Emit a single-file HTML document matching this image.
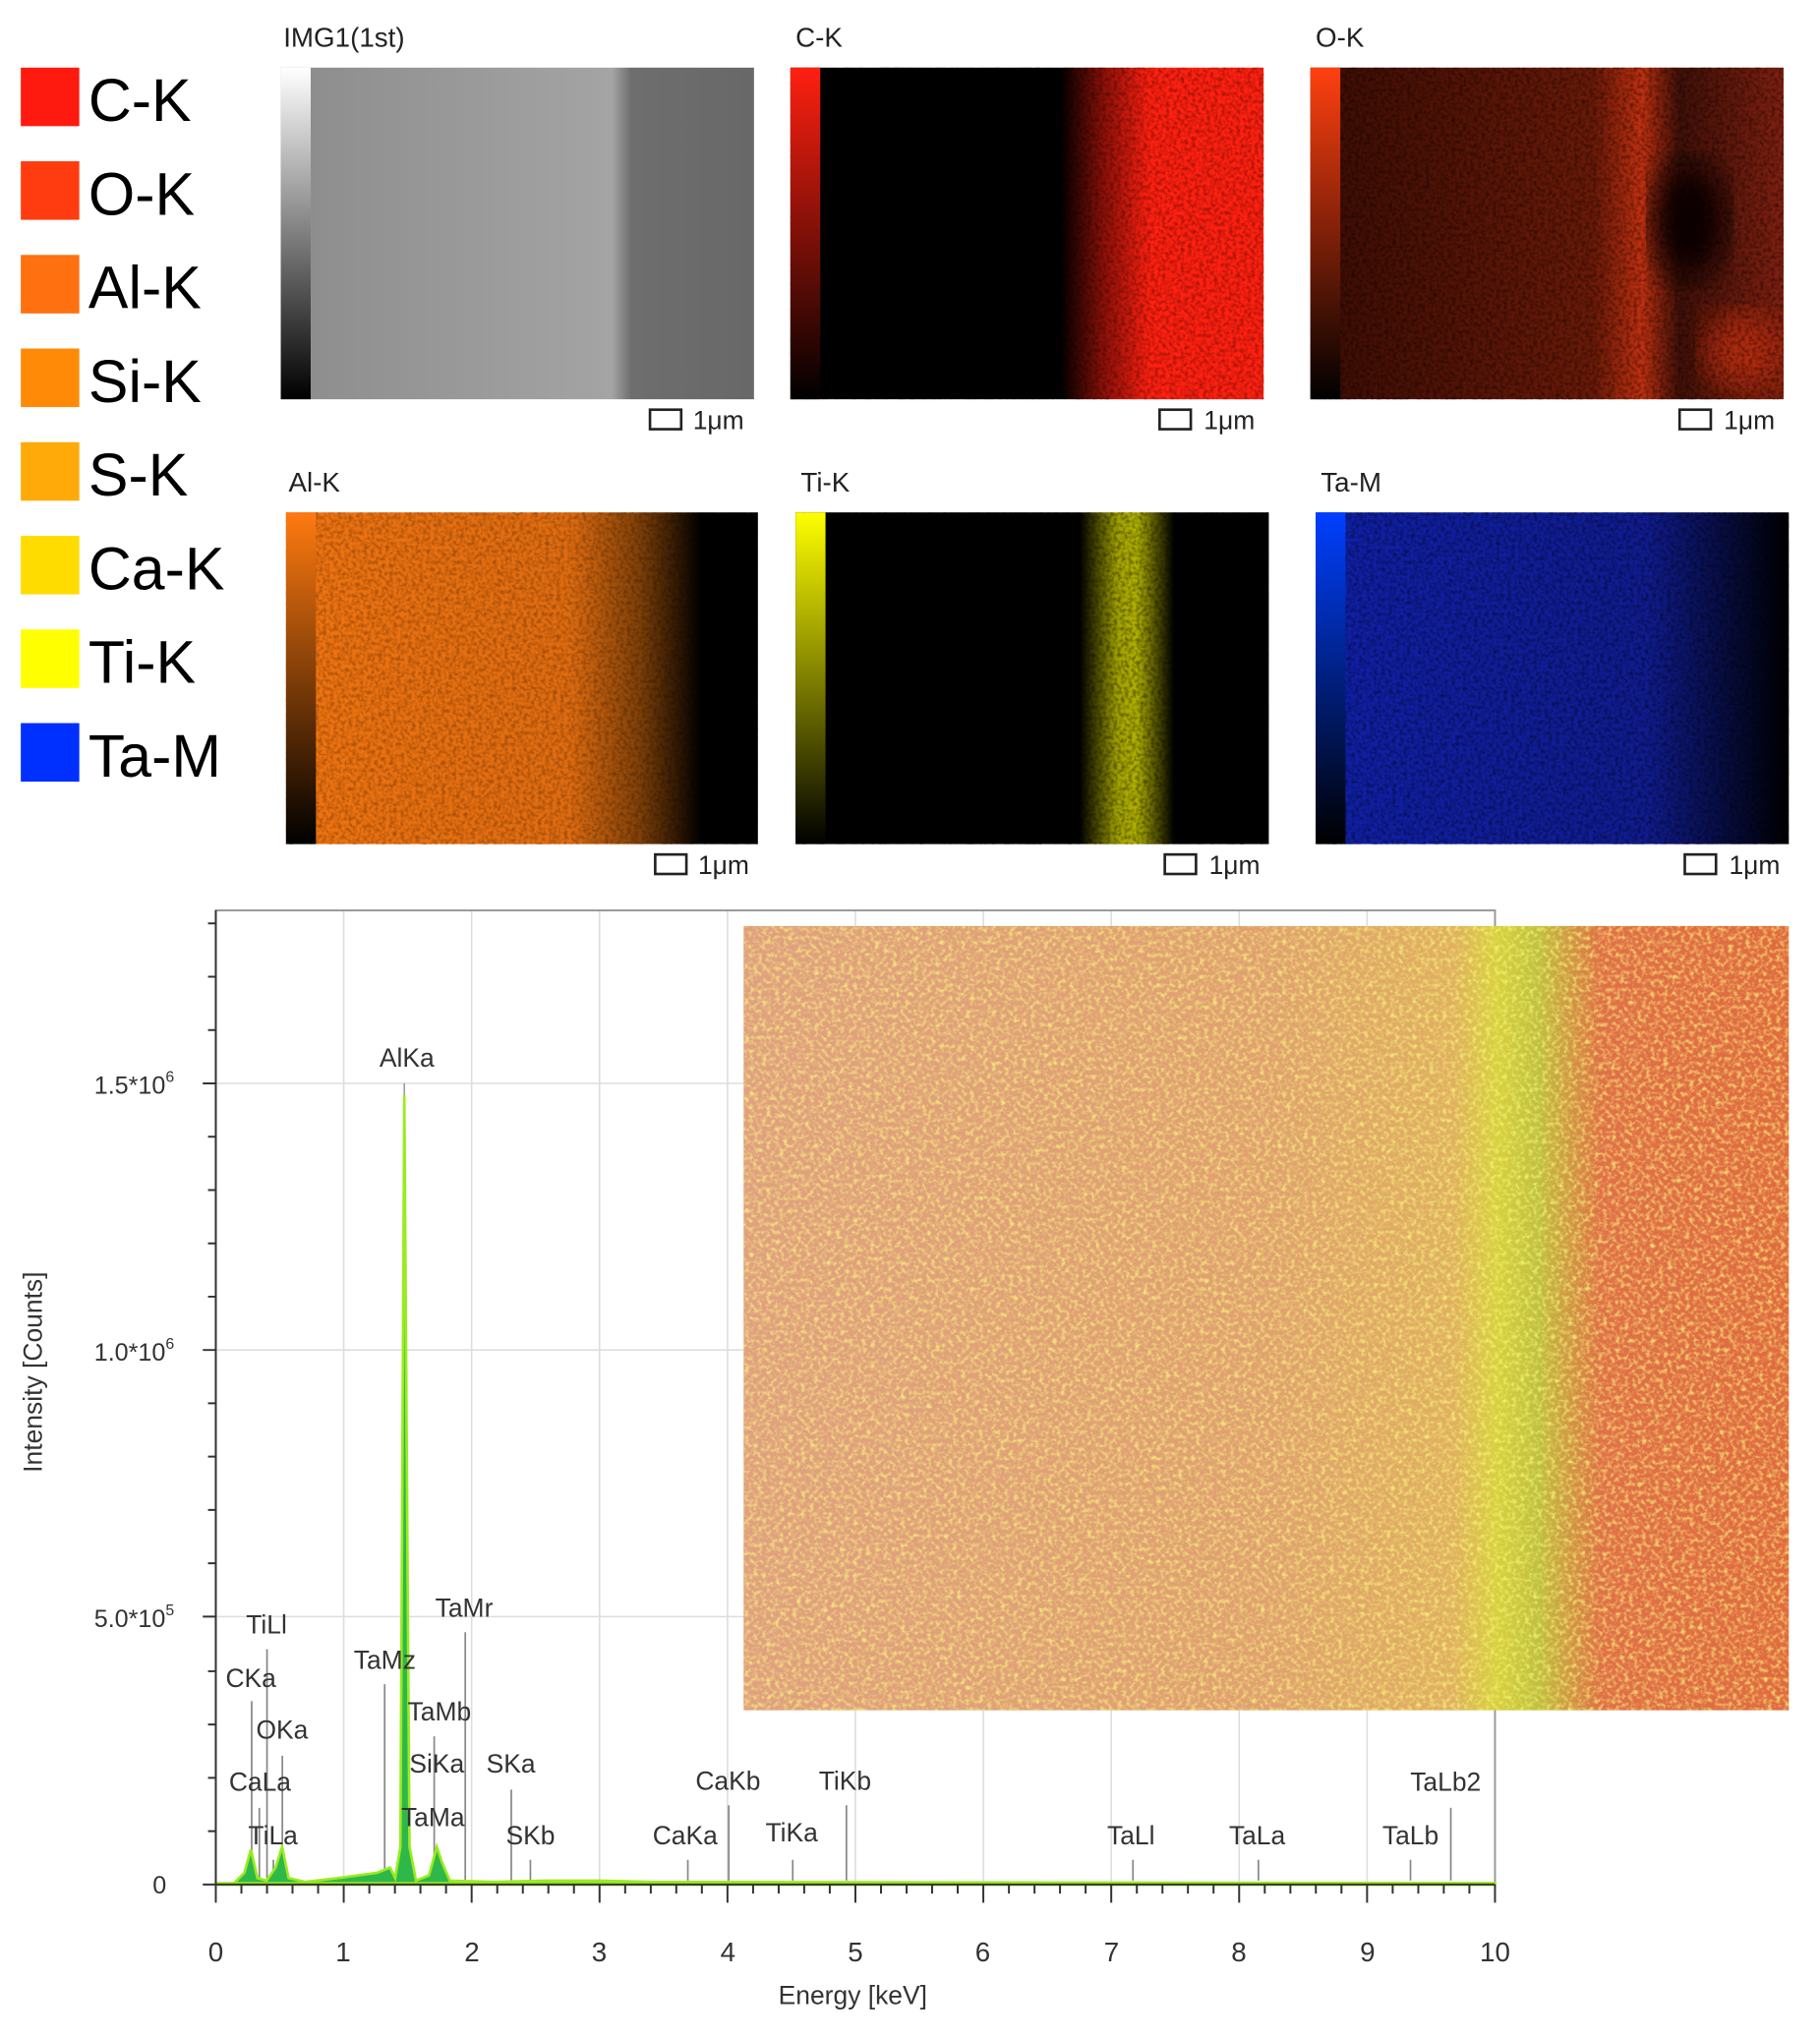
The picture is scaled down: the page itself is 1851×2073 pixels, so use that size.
<!DOCTYPE html>
<html><head><meta charset="utf-8"><style>
html,body{margin:0;padding:0;background:#fff}
svg{display:block}
text{font-family:"Liberation Sans",sans-serif}
</style></head><body>
<svg width="1851" height="2073" viewBox="0 0 1400 1567" preserveAspectRatio="none" xmlns="http://www.w3.org/2000/svg">
<defs>
<filter id="nz" x="0" y="0" width="100%" height="100%">
<feTurbulence type="fractalNoise" baseFrequency="0.35" numOctaves="2" seed="3"/>
<feColorMatrix values="0 0 0 0 0  0 0 0 0 0  0 0 0 0 0  1.6 0 0 0 -0.6"/>
</filter>
<filter id="ny" x="0" y="0" width="100%" height="100%">
<feTurbulence type="fractalNoise" baseFrequency="0.3" numOctaves="2" seed="7"/>
<feColorMatrix values="0 0 0 0 0.95  0 0 0 0 0.95  0 0 0 0 0.2  2.5 0 0 0 -1.1"/>
</filter>
<filter id="bl"><feGaussianBlur stdDeviation="12"/></filter>
<linearGradient id="cbw" x1="0" y1="0" x2="0" y2="1"><stop offset="0" stop-color="#fff"/><stop offset="1" stop-color="#000"/></linearGradient>
<linearGradient id="cbr" x1="0" y1="0" x2="0" y2="1"><stop offset="0" stop-color="#ff2010"/><stop offset="1" stop-color="#000"/></linearGradient>
<linearGradient id="cbo" x1="0" y1="0" x2="0" y2="1"><stop offset="0" stop-color="#ff4010"/><stop offset="1" stop-color="#000"/></linearGradient>
<linearGradient id="cba" x1="0" y1="0" x2="0" y2="1"><stop offset="0" stop-color="#ff7a10"/><stop offset="1" stop-color="#000"/></linearGradient>
<linearGradient id="cby" x1="0" y1="0" x2="0" y2="1"><stop offset="0" stop-color="#ffff00"/><stop offset="1" stop-color="#000"/></linearGradient>
<linearGradient id="cbb" x1="0" y1="0" x2="0" y2="1"><stop offset="0" stop-color="#0040ff"/><stop offset="1" stop-color="#000"/></linearGradient>
<linearGradient id="gimg" x1="0" y1="0" x2="1" y2="0"><stop offset="0" stop-color="#8c8c8c"/><stop offset="0.7" stop-color="#a4a4a4"/><stop offset="0.74" stop-color="#6e6e6e"/><stop offset="1" stop-color="#686868"/></linearGradient>
<linearGradient id="gck" x1="0" y1="0" x2="1" y2="0"><stop offset="0" stop-color="#000"/><stop offset="0.57" stop-color="#000"/><stop offset="0.66" stop-color="#8a1008"/><stop offset="0.76" stop-color="#ff2010"/><stop offset="1" stop-color="#ff2010"/></linearGradient>
<linearGradient id="gok" x1="0" y1="0" x2="1" y2="0"><stop offset="0" stop-color="#3a0c04"/><stop offset="0.6" stop-color="#6a1a08"/><stop offset="0.7" stop-color="#c03010"/><stop offset="0.78" stop-color="#401008"/><stop offset="1" stop-color="#802010"/></linearGradient>
<linearGradient id="gal" x1="0" y1="0" x2="1" y2="0"><stop offset="0" stop-color="#f07410"/><stop offset="0.6" stop-color="#e06c10"/><stop offset="0.75" stop-color="#804008"/><stop offset="0.88" stop-color="#000"/><stop offset="1" stop-color="#000"/></linearGradient>
<linearGradient id="gti" x1="0" y1="0" x2="1" y2="0"><stop offset="0" stop-color="#000"/><stop offset="0.6" stop-color="#000"/><stop offset="0.68" stop-color="#a0a000"/><stop offset="0.72" stop-color="#b0b000"/><stop offset="0.8" stop-color="#000"/><stop offset="1" stop-color="#000"/></linearGradient>
<linearGradient id="gta" x1="0" y1="0" x2="1" y2="0"><stop offset="0" stop-color="#1020a8"/><stop offset="0.7" stop-color="#101c90"/><stop offset="1" stop-color="#000"/></linearGradient>
<linearGradient id="gov" x1="0" y1="0" x2="1" y2="0"><stop offset="0" stop-color="#e0a080"/><stop offset="0.5" stop-color="#e0a070"/><stop offset="0.68" stop-color="#e0b060"/><stop offset="0.72" stop-color="#d8d040"/><stop offset="0.76" stop-color="#c0c040"/><stop offset="0.82" stop-color="#e07048"/><stop offset="1" stop-color="#e06a40"/></linearGradient>
<clipPath id="okc"><rect x="1008" y="52" width="364" height="255"/></clipPath>
</defs>
<g font-size="46">
<rect x="16" y="52" width="45" height="45" fill="#ff1a10"/><text x="68" y="93">C-K</text>
<rect x="16" y="124" width="45" height="45" fill="#ff3c10"/><text x="68" y="165">O-K</text>
<rect x="16" y="196" width="45" height="45" fill="#ff7010"/><text x="68" y="237">Al-K</text>
<rect x="16" y="268" width="45" height="45" fill="#ff8a08"/><text x="68" y="309">Si-K</text>
<rect x="16" y="340" width="45" height="45" fill="#ffaa08"/><text x="68" y="381">S-K</text>
<rect x="16" y="412" width="45" height="45" fill="#ffdc00"/><text x="68" y="453">Ca-K</text>
<rect x="16" y="484" width="45" height="45" fill="#ffff00"/><text x="68" y="525">Ti-K</text>
<rect x="16" y="556" width="45" height="45" fill="#0030ff"/><text x="68" y="597">Ta-M</text>
</g>
<g font-size="21" fill="#222">
<text x="218" y="36">IMG1(1st)</text><text x="612" y="36">C-K</text><text x="1012" y="36">O-K</text>
<text x="222" y="378">Al-K</text><text x="616" y="378">Ti-K</text><text x="1016" y="378">Ta-M</text>
</g>
<rect x="216" y="52" width="364" height="255" fill="url(#gimg)"/><rect x="216" y="52" width="23" height="255" fill="url(#cbw)"/>
<rect x="608" y="52" width="364" height="255" fill="url(#gck)"/><rect x="608" y="52" width="364" height="255" filter="url(#nz)" opacity="0.5"/><rect x="608" y="52" width="23" height="255" fill="url(#cbr)"/>
<rect x="1008" y="52" width="364" height="255" fill="url(#gok)"/>
<g clip-path="url(#okc)"><ellipse cx="1300" cy="170" rx="28" ry="45" fill="#100402" filter="url(#bl)"/><ellipse cx="1340" cy="270" rx="30" ry="30" fill="#d03010" opacity="0.7" filter="url(#bl)"/></g>
<rect x="1008" y="52" width="364" height="255" filter="url(#nz)" opacity="0.6"/><rect x="1008" y="52" width="23" height="255" fill="url(#cbo)"/>
<rect x="220" y="394" width="363" height="255" fill="url(#gal)"/><rect x="220" y="394" width="363" height="255" filter="url(#nz)" opacity="0.4"/><rect x="220" y="394" width="23" height="255" fill="url(#cba)"/>
<rect x="612" y="394" width="364" height="255" fill="url(#gti)"/><rect x="612" y="394" width="364" height="255" filter="url(#nz)" opacity="0.6"/><rect x="612" y="394" width="23" height="255" fill="url(#cby)"/>
<rect x="1012" y="394" width="364" height="255" fill="url(#gta)"/><rect x="1012" y="394" width="364" height="255" filter="url(#nz)" opacity="0.6"/><rect x="1012" y="394" width="23" height="255" fill="url(#cbb)"/>
<g font-size="20" fill="#222" stroke="none">
<rect x="500" y="315" width="24" height="15" fill="none" stroke="#222" stroke-width="2"/><text x="533" y="330">1μm</text>
<rect x="892" y="315" width="24" height="15" fill="none" stroke="#222" stroke-width="2"/><text x="926" y="330">1μm</text>
<rect x="1292" y="315" width="24" height="15" fill="none" stroke="#222" stroke-width="2"/><text x="1326" y="330">1μm</text>
<rect x="504" y="657" width="24" height="15" fill="none" stroke="#222" stroke-width="2"/><text x="537" y="672">1μm</text>
<rect x="896" y="657" width="24" height="15" fill="none" stroke="#222" stroke-width="2"/><text x="930" y="672">1μm</text>
<rect x="1296" y="657" width="24" height="15" fill="none" stroke="#222" stroke-width="2"/><text x="1330" y="672">1μm</text>
</g>
<g stroke="#ddd" stroke-width="1.2">
<line x1="264.4" y1="700" x2="264.4" y2="1449"/><line x1="362.8" y1="700" x2="362.8" y2="1449"/><line x1="461.2" y1="700" x2="461.2" y2="1449"/><line x1="559.6" y1="700" x2="559.6" y2="1449"/><line x1="658" y1="700" x2="658" y2="1449"/><line x1="756.4" y1="700" x2="756.4" y2="1449"/><line x1="854.8" y1="700" x2="854.8" y2="1449"/><line x1="953.2" y1="700" x2="953.2" y2="1449"/><line x1="1051.6" y1="700" x2="1051.6" y2="1449"/>
<line x1="166" y1="833" x2="1150" y2="833"/><line x1="166" y1="1038" x2="1150" y2="1038"/><line x1="166" y1="1243" x2="1150" y2="1243"/>
</g>
<rect x="166" y="700" width="984" height="749" fill="none" stroke="#999" stroke-width="1.5"/>
<g stroke="#888" stroke-width="1.3">
<line x1="205.4" y1="1268" x2="205.4" y2="1446"/><line x1="193.6" y1="1308" x2="193.6" y2="1446"/><line x1="217.2" y1="1350" x2="217.2" y2="1446"/><line x1="199.5" y1="1390" x2="199.5" y2="1446"/><line x1="210.3" y1="1430" x2="210.3" y2="1446"/>
<line x1="295.9" y1="1295" x2="295.9" y2="1446"/><line x1="357.9" y1="1255" x2="357.9" y2="1446"/><line x1="334" y1="1335" x2="334" y2="1446"/>
<line x1="393.3" y1="1376" x2="393.3" y2="1446"/><line x1="408" y1="1430" x2="408" y2="1446"/>
<line x1="529.1" y1="1430" x2="529.1" y2="1446"/><line x1="560.6" y1="1388" x2="560.6" y2="1446"/><line x1="609.8" y1="1430" x2="609.8" y2="1446"/><line x1="651.1" y1="1388" x2="651.1" y2="1446"/>
<line x1="871.5" y1="1430" x2="871.5" y2="1446"/><line x1="968" y1="1430" x2="968" y2="1446"/><line x1="1085" y1="1430" x2="1085" y2="1446"/><line x1="1116" y1="1390" x2="1116" y2="1446"/>
</g>
<path d="M166,1449 L180,1448 L188,1440 L193,1422 L198,1444 L205,1446 L212,1436 L217,1420 L222,1444 L235,1447 L260,1444 L290,1440 L300,1436 L304,1444 L308,1420 L311,842 L315,1420 L320,1446 L330,1442 L336,1420 L340,1432 L346,1446 L380,1447 L420,1446 L460,1446 L500,1447 L1150,1448 L1150,1449 Z" fill="#2eb84a" stroke="#9aeb20" stroke-width="2"/>
<line x1="166" y1="1448.5" x2="1150" y2="1448.5" stroke="#9aeb20" stroke-width="3"/>
<line x1="311" y1="833" x2="311" y2="842" stroke="#888"/>
<g font-size="20" fill="#333" text-anchor="middle">
<text x="313" y="820">AlKa</text>
<text x="205" y="1256">TiLl</text><text x="193" y="1297">CKa</text><text x="217" y="1337">OKa</text><text x="200" y="1377">CaLa</text><text x="210" y="1418">TiLa</text>
<text x="296" y="1283">TaMz</text><text x="357" y="1243">TaMr</text><text x="338" y="1323">TaMb</text><text x="336" y="1363">SiKa</text><text x="333" y="1404">TaMa</text>
<text x="393" y="1363">SKa</text><text x="408" y="1418">SKb</text><text x="527" y="1418">CaKa</text><text x="560" y="1376">CaKb</text><text x="609" y="1416">TiKa</text><text x="650" y="1376">TiKb</text>
<text x="870" y="1418">TaLl</text><text x="967" y="1418">TaLa</text><text x="1085" y="1418">TaLb</text><text x="1112" y="1377">TaLb2</text>
</g>
<rect x="572" y="712" width="804" height="603" fill="url(#gov)"/>
<rect x="572" y="712" width="804" height="603" filter="url(#ny)" opacity="0.8"/>
<g stroke="#333" stroke-width="1.5">
<line x1="166" y1="700" x2="166" y2="1449"/><line x1="166" y1="1449" x2="1150" y2="1449"/>
<path d="M156,1449h10M156,1243h10M156,1038h10M156,833h10M160,1408h6M160,1367h6M160,1326h6M160,1285h6M160,1202h6M160,1161h6M160,1120h6M160,1079h6M160,997h6M160,956h6M160,915h6M160,874h6M160,792h6M160,751h6M160,710h6"/>
<path d="M166,1449v14M264.4,1449v14M362.8,1449v14M461.2,1449v14M559.6,1449v14M658,1449v14M756.4,1449v14M854.8,1449v14M953.2,1449v14M1051.6,1449v14M1150,1449v14"/>
<path d="M185.7,1449v7M205.4,1449v7M225,1449v7M244.7,1449v7M284.1,1449v7M303.8,1449v7M323.4,1449v7M343.1,1449v7M382.5,1449v7M402.2,1449v7M421.8,1449v7M441.5,1449v7M480.9,1449v7M500.6,1449v7M520.2,1449v7M539.9,1449v7M579.3,1449v7M599,1449v7M618.6,1449v7M638.3,1449v7M677.7,1449v7M697.4,1449v7M717,1449v7M736.7,1449v7M776.1,1449v7M795.8,1449v7M815.4,1449v7M835.1,1449v7M874.5,1449v7M894.2,1449v7M913.8,1449v7M933.5,1449v7M972.9,1449v7M992.6,1449v7M1012.2,1449v7M1031.9,1449v7M1071.3,1449v7M1091,1449v7M1110.6,1449v7M1130.3,1449v7"/>
</g>
<g font-size="21" fill="#333" text-anchor="middle">
<text x="166" y="1508">0</text><text x="264" y="1508">1</text><text x="363" y="1508">2</text><text x="461" y="1508">3</text><text x="560" y="1508">4</text><text x="658" y="1508">5</text><text x="756" y="1508">6</text><text x="855" y="1508">7</text><text x="953" y="1508">8</text><text x="1052" y="1508">9</text><text x="1150" y="1508">10</text>
<text x="656" y="1541" font-size="20">Energy [keV]</text>
</g>
<g font-size="19" fill="#333" text-anchor="end">
<text x="128" y="1456">0</text>
<text x="134" y="1251">5.0*10<tspan font-size="12" dy="-9">5</tspan></text>
<text x="134" y="1046">1.0*10<tspan font-size="12" dy="-9">6</tspan></text>
<text x="134" y="841">1.5*10<tspan font-size="12" dy="-9">6</tspan></text>
</g>
<text x="0" y="0" font-size="20" fill="#333" text-anchor="middle" transform="translate(32,1055) rotate(-90)">Intensity [Counts]</text>
</svg>
</body></html>
